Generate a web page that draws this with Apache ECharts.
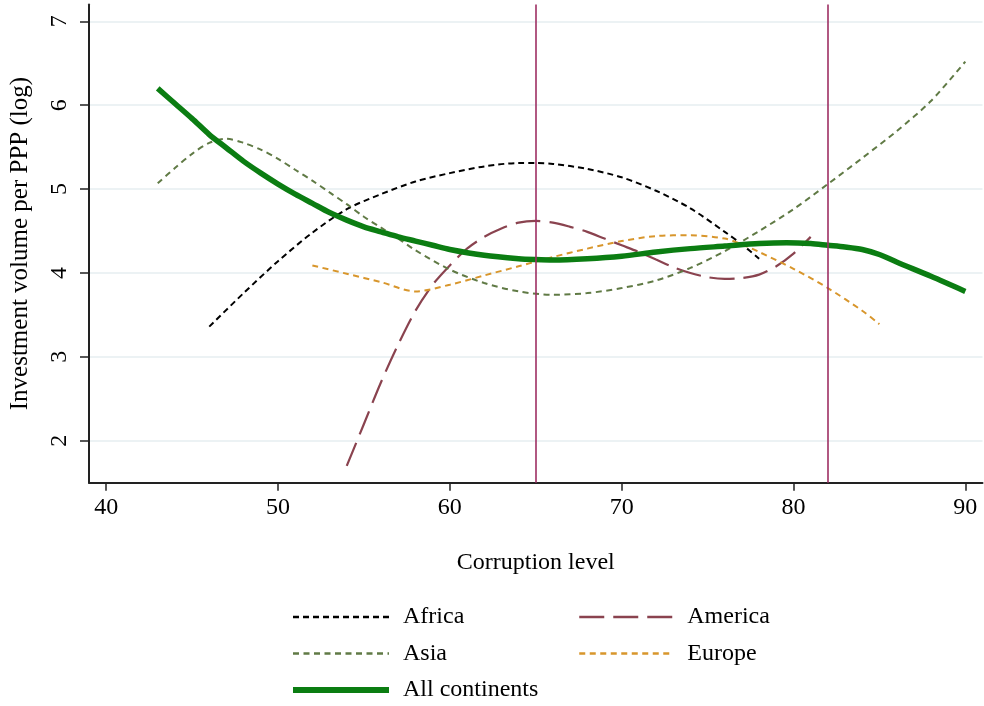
<!DOCTYPE html>
<html>
<head>
<meta charset="utf-8">
<script src="https://cdn.jsdelivr.net/npm/echarts@6/dist/echarts.min.js"></script>
<style>
html,body{margin:0;padding:0;background:#fff;}
#chart{width:984px;height:706px;}
</style>
</head>
<body>
<div id="chart"></div>
<script>
// ---- data ----
const africa = [[46,3.36],[48,3.76],[50,4.14],[52,4.48],[54,4.76],[56,4.94],[58,5.09],[60,5.19],[62,5.27],[64,5.31],[65,5.31],[66,5.30],[68,5.24],[70,5.14],[72,4.98],[74,4.77],[76,4.49],[77,4.34],[78,4.17]];
const america = [[54,1.70],[55,2.20],[56,2.70],[57,3.15],[58,3.55],[59,3.86],[60,4.09],[61,4.29],[62,4.43],[63,4.53],[64,4.60],[65,4.62],[66,4.60],[67,4.55],[68,4.49],[69,4.41],[70,4.33],[71,4.25],[72,4.16],[73,4.07],[74,4.00],[75,3.95],[76,3.93],[77,3.94],[78,3.98],[79,4.08],[80,4.23],[81,4.43]];
const asia = [[43,5.07],[44,5.25],[45,5.42],[46,5.55],[47,5.60],[48,5.55],[49,5.47],[50,5.36],[51,5.23],[52,5.10],[53,4.96],[54,4.82],[55,4.67],[56,4.54],[57,4.41],[58,4.27],[60,4.04],[62,3.88],[64,3.78],[66,3.74],[68,3.76],[70,3.82],[72,3.91],[74,4.06],[76,4.26],[78,4.50],[80,4.76],[82,5.06],[84,5.37],[86,5.69],[88,6.05],[90,6.52]];
const europe = [[52,4.09],[54,3.99],[56,3.89],[58,3.78],[60,3.86],[62,3.97],[64,4.08],[66,4.19],[68,4.29],[70,4.38],[72,4.44],[74,4.45],[76,4.41],[77,4.34],[78,4.25],[80,4.05],[82,3.82],[84,3.55],[85,3.39]];
const allContinents = [[43,6.20],[44,6.02],[45,5.84],[46,5.65],[47,5.49],[48,5.33],[49,5.19],[50,5.06],[51,4.94],[52,4.83],[53,4.72],[54,4.63],[55,4.55],[56,4.49],[57,4.43],[58,4.38],[59,4.33],[60,4.28],[62,4.21],[64,4.17],[65,4.16],[66,4.155],[68,4.17],[70,4.20],[72,4.25],[74,4.29],[76,4.32],[78,4.35],[79.6,4.36],[81,4.35],[82,4.33],[83,4.31],[84,4.28],[85,4.22],[86,4.13],[88,3.96],[90,3.78]];
const cutoffs = [65, 82];
const xTicks = [40, 50, 60, 70, 80, 90];
const yTicks = [2, 3, 4, 5, 6, 7];
const seriesNames = ['Africa', 'America', 'Asia', 'Europe', 'All continents'];

// ---- chart ----
const FONT = '"Liberation Serif", "Times New Roman", serif';
const chart = echarts.init(document.getElementById('chart'), null, {renderer: 'canvas'});

function lineSeries(name, data, color, width, dash, z) {
  return {
    name: name, type: 'line', data: data, smooth: 0.3,
    showSymbol: false, symbol: 'none', z: z,
    lineStyle: {color: color, width: width, type: dash},
    itemStyle: {color: color},
    emphasis: {disabled: true},
    animation: false
  };
}

const series = [
  lineSeries(seriesNames[0], africa, '#000000', 2, [6, 4], 3),
  lineSeries(seriesNames[1], america, '#8a434f', 2.2, [25, 9], 3),
  lineSeries(seriesNames[2], asia, '#607a45', 2, [6, 4.5], 3),
  lineSeries(seriesNames[3], europe, '#d8962c', 2, [6, 4.5], 3),
  lineSeries(seriesNames[4], allContinents, '#0b7d12', 5.5, 'solid', 4)
];
series[4].markLine = {
  silent: true, symbol: ['none', 'none'], label: {show: false},
  lineStyle: {color: '#9e2f63', width: 1.6, type: 'solid'},
  data: cutoffs.map(v => ({xAxis: v})),
  animation: false
};

const legendText = {fontFamily: FONT, fontSize: 24, color: '#000', lineHeight: 24, padding: [0, 0, 0, 9]};
const legendCommon = {
  orient: 'vertical', top: 605, height: 101, padding: 0,
  itemHeight: 14, itemGap: 12.5,
  selectedMode: false, textStyle: legendText,
  itemStyle: {opacity: 0, borderWidth: 0}
};

chart.setOption({
  animation: false,
  backgroundColor: '#ffffff',
  grid: {left: 88, right: 1.5, top: 4.5, bottom: 223.3},
  xAxis: {
    type: 'value', min: 39, max: 91,
    name: 'Corruption level', nameLocation: 'middle', nameGap: 68,
    nameTextStyle: {fontFamily: FONT, fontSize: 24, color: '#000'},
    axisLine: {show: true, onZero: false, lineStyle: {color: '#222', width: 2}},
    axisTick: {show: true, length: 8, lineStyle: {color: '#222', width: 1.5}, customValues: xTicks},
    axisLabel: {fontFamily: FONT, fontSize: 24, color: '#000', margin: 13, customValues: xTicks},
    splitLine: {show: false}
  },
  yAxis: {
    type: 'value', min: 1.5, max: 7.2,
    name: 'Investment volume per PPP (log)', nameLocation: 'middle', nameGap: 56, nameRotate: 90,
    nameTextStyle: {fontFamily: FONT, fontSize: 25, color: '#000'},
    axisLine: {show: true, onZero: false, lineStyle: {color: '#222', width: 2}},
    axisTick: {show: true, length: 9, lineStyle: {color: '#222', width: 1.5}, customValues: yTicks},
    axisLabel: {fontFamily: FONT, fontSize: 24, color: '#000', margin: 17, rotate: 90, customValues: yTicks},
    splitLine: {show: true, lineStyle: {color: '#e6eef0', width: 1.5}}
  },
  legend: [
    Object.assign({}, legendCommon, {
      left: 290, itemWidth: 96,
      data: [
        {name: seriesNames[0], lineStyle: {width: 2.5}},
        {name: seriesNames[2], lineStyle: {width: 2.5}},
        {name: seriesNames[4], lineStyle: {width: 6}}
      ]
    }),
    Object.assign({}, legendCommon, {
      left: 578, itemWidth: 94,
      data: [
        {name: seriesNames[1], lineStyle: {width: 2.5}},
        {name: seriesNames[3], lineStyle: {width: 2.5}}
      ]
    })
  ],
  series: series
});
</script>
</body>
</html>
